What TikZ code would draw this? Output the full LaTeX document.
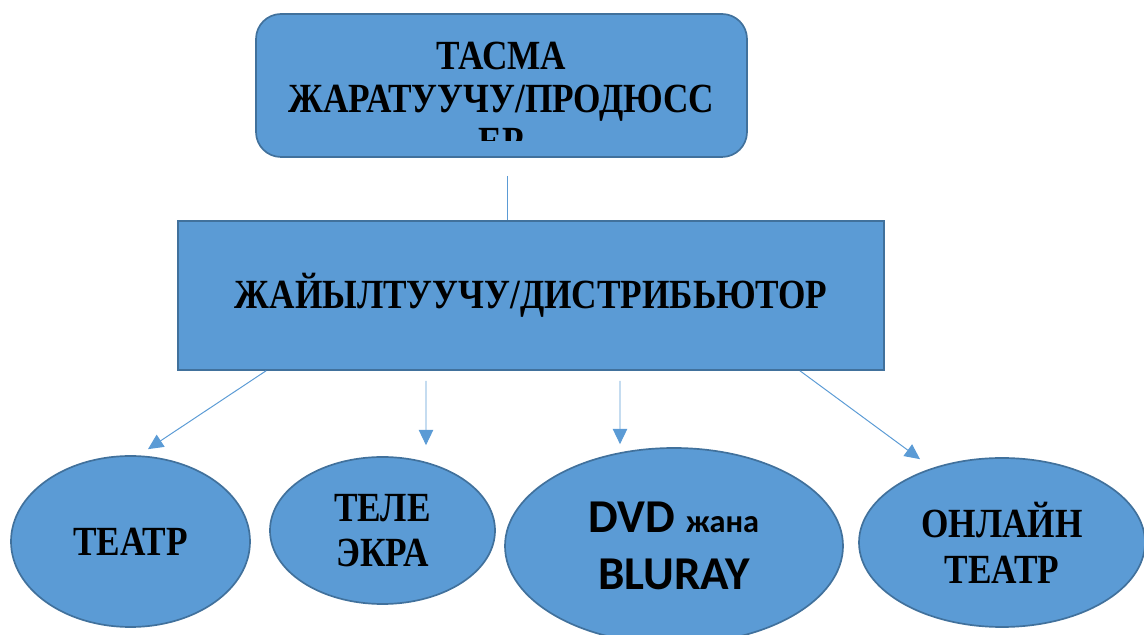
\documentclass[tikz,border=0pt]{standalone}
\usepackage{fontspec}
\usetikzlibrary{shapes.geometric,arrows.meta}
\newfontfamily\headfont[FakeStretch=0.85]{Liberation Serif}
\newfontfamily\discfont{Carlito}
\definecolor{boxfill}{HTML}{5B9BD5}
\definecolor{boxline}{HTML}{41719C}

\begin{document}
\begin{tikzpicture}[
    box/.style={draw=boxline, line width=1.2pt, fill=boxfill},
    ell/.style={box, ellipse, inner sep=0pt, align=center, font=\headfont\bfseries\fontsize{29.5}{32.5}\selectfont},
    arrow/.style={-{Triangle[length=0.38cm, width=0.36cm]}, draw=boxfill, line width=0.7pt},
    link/.style={draw=boxfill, line width=0.7pt}
]
\useasboundingbox (0,0) rectangle (28.6,15.875);

% Producer
\node[box, rounded corners=0.625cm, minimum width=12.275cm, minimum height=3.575cm] (tasma) at (12.5375, 13.7375) {};
\begin{scope}
  \clip (tasma.north west) rectangle ([yshift=0.425cm]tasma.south east);
  \node[align=center, font=\headfont\bfseries\fontsize{29.5}{30.5}\selectfont] (tasmatext) at (12.5375, 13.4) {ТАСМА\\ЖАРАТУУЧУ/ПРОДЮСС\\ЕР};
\end{scope}

% Distributor
\node[box, minimum width=17.65cm, minimum height=3.725cm, font=\headfont\bfseries\fontsize{29.5}{32}\selectfont] (dist) at (13.275, 8.4875) {ЖАЙЫЛТУУЧУ/ДИСТРИБЬЮТОР};

% Channels
\node[ell, minimum width=5.975cm, minimum height=4.275cm] (teatr) at (3.2625, 2.3375) {ТЕАТР};
\node[ell, minimum width=5.625cm, minimum height=3.675cm] (tele) at (9.5625, 2.6125) {ТЕЛЕ\\ЭКРА};
\node[ell, minimum width=8.45cm, minimum height=4.9cm, font=\discfont\bfseries\fontsize{33.5}{41}\selectfont] (dvd) at (16.85, 2.225) {DVD {\fontsize{23}{26}\selectfont жана}\\BLURAY};
\node[ell, minimum width=7.15cm, minimum height=4.225cm] (online) at (25.05, 2.3125) {ОНЛАЙН\\ТЕАТР};

% Arrows
\draw[link] ([xshift=0.1375cm, yshift=-0.45cm]tasma.south) -- ([xshift=0.1375cm]tasma.south |- dist.north);
\draw[arrow] ([xshift=-6.625cm]dist.south) -- ([xshift=0.4375cm, yshift=0.15cm]teatr.north);
\draw[arrow] ([xshift=-2.625cm, yshift=-0.25cm]dist.south) -- ([xshift=1.0875cm, yshift=0.275cm]tele.north);
\draw[arrow] ([xshift=2.225cm, yshift=-0.25cm]dist.south) -- ([xshift=-1.35cm, yshift=0.075cm]dvd.north);
\draw[arrow] ([xshift=6.725cm]dist.south) -- ([xshift=-2.05cm, yshift=-0.05cm]online.north);

\end{tikzpicture}
\end{document}
